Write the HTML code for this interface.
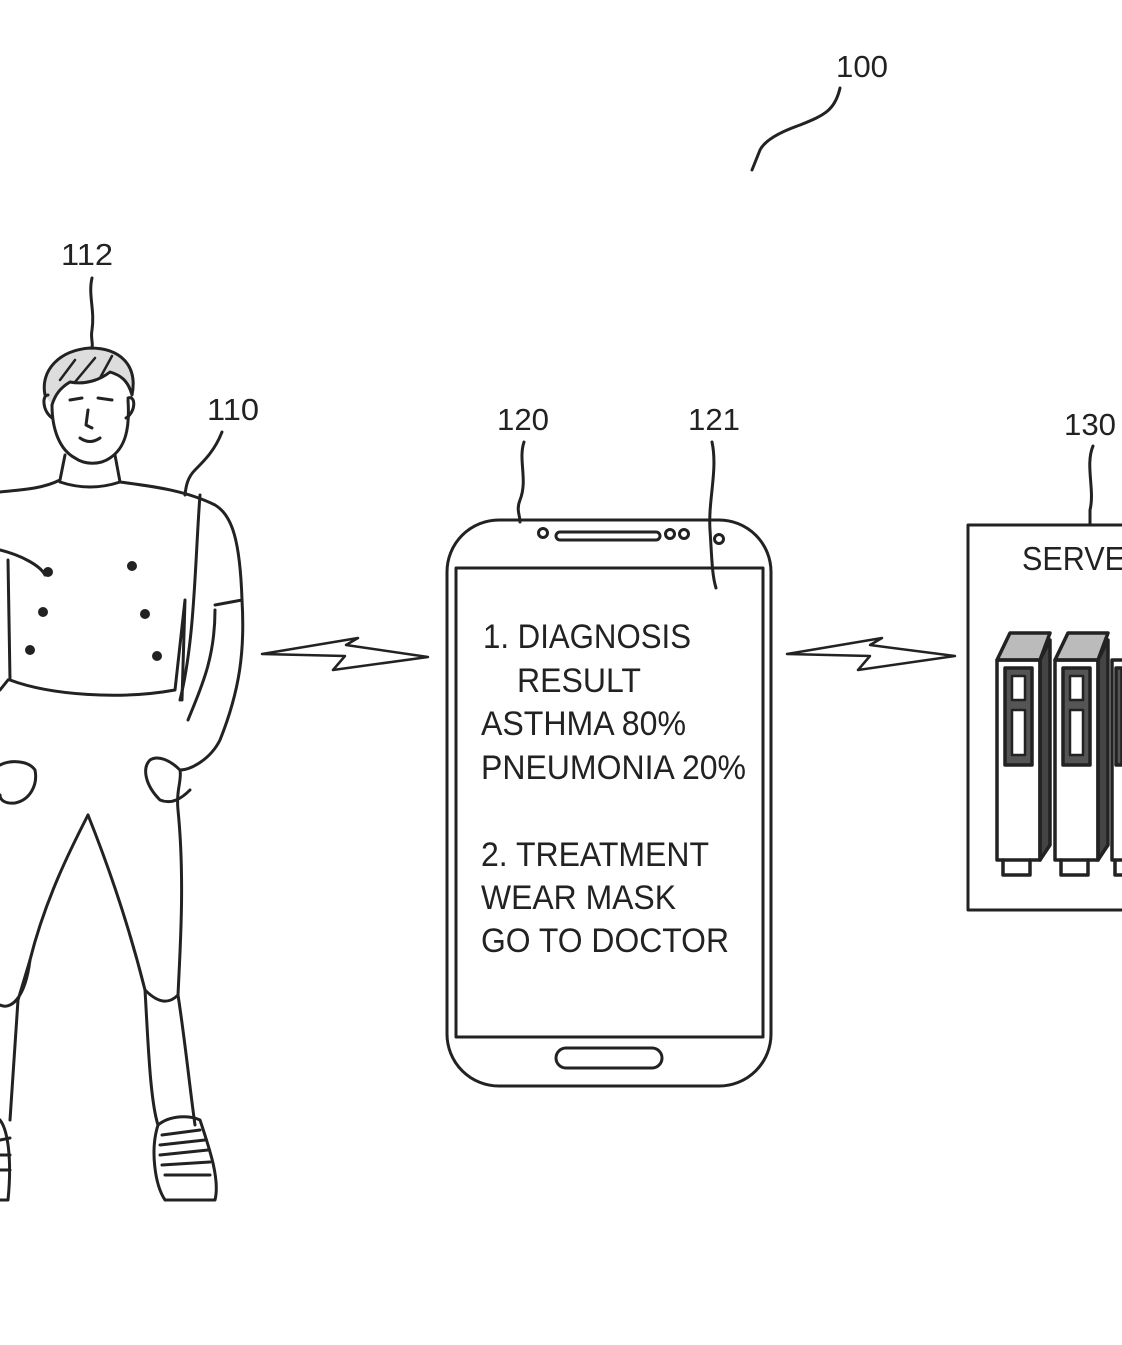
<!DOCTYPE html>
<html><head><meta charset="utf-8"><style>
html,body{margin:0;padding:0;background:#fff;}
svg{display:block;}
text{font-family:"Liberation Sans",sans-serif;fill:#222;}
</style></head><body>
<svg width="1122" height="1345" viewBox="0 0 1122 1345" xmlns="http://www.w3.org/2000/svg">
<g fill="none" stroke="#222" stroke-width="3" stroke-linecap="round" stroke-linejoin="round">
<path d="M840 88 C835 110 825 115 800 125 C780 132 765 140 760 150 L752 170"/>
<path d="M92 278 C88 295 95 310 92 330 C90 340 95 345 90 352"/>
<path d="M222 432 C215 450 205 460 195 470 C188 477 186 485 185 495"/>
<path d="M524 442 C518 460 528 480 520 500 C516 510 520 515 520 522"/>
<path d="M712 442 C718 470 708 500 710 530 C712 560 712 575 716 588"/>
<path d="M1093 446 C1085 465 1095 490 1090 510 L1090 525"/>

<!-- Person -->
<path d="M45 395 C40 370 60 350 90 348 C120 348 138 365 132 395 C128 380 120 375 110 372 C100 380 85 385 70 382 C60 388 55 395 52 405" fill="#ddd"/>
<path d="M60 380 L75 360 M75 382 L95 358 M100 378 L112 356" stroke-width="2.5"/>
<path d="M52 405 C52 430 60 450 75 458 C85 465 100 465 110 458 C125 448 130 430 128 400"/>
<path d="M48 395 C42 395 42 410 52 418"/><path d="M128 398 C136 395 136 412 126 418"/>
<path d="M70 400 L82 398 M98 398 L112 400 M88 410 L86 425 L92 428 M80 438 Q90 445 100 438"/>
<path d="M65 455 L60 480 C40 490 15 490 0 492 M115 455 L120 482 C150 486 185 490 215 505 C232 515 240 540 242 600 L215 605"/>
<path d="M60 482 Q90 492 120 482"/>
<path d="M0 550 C20 555 40 565 45 575"/>
<path d="M8 560 L10 680 C50 695 120 700 175 690 L185 600 M185 600 L182 700"/>
<path d="M8 680 L0 690"/>
<path d="M242 600 C245 650 240 690 220 740 C210 760 190 770 180 770 M215 610 C215 660 200 690 188 720 M200 495 C195 560 195 640 180 700"/>
<path d="M150 760 C142 768 145 785 160 800 C172 805 182 798 190 790 M180 770 C170 760 158 755 150 760"/>
<path d="M0 765 C10 760 28 760 35 770 C38 785 30 800 15 803 C5 804 0 800 0 795"/>
<path d="M88 815 C70 850 45 900 30 960 C25 1000 10 1010 0 1005"/>
<path d="M88 815 C110 870 130 930 145 990 C160 1005 170 1003 178 995 C180 950 185 880 178 810 C176 790 182 780 180 770"/>
<path d="M145 990 C148 1040 150 1100 158 1125 M178 995 C185 1040 190 1090 195 1125"/>
<path d="M30 960 L18 1000 L10 1120"/>
<path d="M158 1125 C150 1150 155 1185 165 1200 L215 1200 C220 1180 210 1150 200 1120 C190 1115 170 1115 158 1125"/>
<path d="M162 1135 L200 1130 M160 1145 L205 1140 M160 1155 L208 1150 M162 1165 L210 1162 M165 1175 L210 1175"/>
<path d="M0 1120 C8 1130 12 1160 8 1200 L0 1200 M0 1140 L10 1138 M0 1155 L10 1155 M0 1170 L10 1170"/>

<path d="M262 654 L345 656 L333 670 L428 657 L346 645 L358 638 Z" stroke-width="2.5"/>
<path d="M787 654 L870 656 L858 670 L955 656 L870 645 L882 638 Z" stroke-width="2.5"/>

<rect x="447" y="520" width="324" height="566" rx="52" ry="52"/>
<rect x="456" y="568" width="307" height="469"/>
<rect x="556" y="532" width="104" height="8" rx="4"/>
<circle cx="543" cy="533" r="4.5"/><circle cx="670" cy="534" r="4.5"/><circle cx="684" cy="534" r="4.5"/><circle cx="719" cy="539" r="4.5"/>
<rect x="556" y="1048" width="106" height="20" rx="10"/>

<path d="M1122 525 L968 525 L968 910 L1122 910"/>
<g stroke-width="3.5">
<path d="M1040 660 L1050 640 L1050 845 L1040 860 Z" fill="#444"/>
<path d="M997 660 L1010 633 L1050 633 L1040 660 Z" fill="#bbb"/>
<path d="M997 660 L1040 660 L1040 860 L997 860 Z"/>
<path d="M1005 668 L1032 668 L1032 765 L1005 765 Z" fill="#555"/>
<path d="M1012 676 L1025 676 L1025 700 L1012 700 Z M1012 710 L1025 710 L1025 755 L1012 755 Z" fill="#fff" stroke-width="2.5"/>
<path d="M1003 860 L1003 875 L1030 875 L1030 860"/>
<path d="M1098 660 L1108 640 L1108 845 L1098 860 Z" fill="#444"/>
<path d="M1055 660 L1068 633 L1108 633 L1098 660 Z" fill="#bbb"/>
<path d="M1055 660 L1098 660 L1098 860 L1055 860 Z"/>
<path d="M1063 668 L1090 668 L1090 765 L1063 765 Z" fill="#555"/>
<path d="M1070 676 L1083 676 L1083 700 L1070 700 Z M1070 710 L1083 710 L1083 755 L1070 755 Z" fill="#fff" stroke-width="2.5"/>
<path d="M1061 860 L1061 875 L1088 875 L1088 860"/>
<path d="M1112 660 L1122 660 M1112 660 L1112 860 L1122 860 M1115 860 L1115 875 L1122 875"/>
<path d="M1116 668 L1122 668 L1122 765 L1116 765 Z" fill="#555"/>
</g>
</g>
<g fill="#222">
<circle cx="48" cy="572" r="5"/><circle cx="132" cy="566" r="5"/>
<circle cx="43" cy="612" r="5"/><circle cx="145" cy="614" r="5"/>
<circle cx="30" cy="650" r="5"/><circle cx="157" cy="656" r="5"/>
</g>
<g font-size="31">
<text x="836" y="77" textLength="52" lengthAdjust="spacingAndGlyphs">100</text>
<text x="61" y="265" textLength="52" lengthAdjust="spacingAndGlyphs">112</text>
<text x="207" y="420" textLength="52" lengthAdjust="spacingAndGlyphs">110</text>
<text x="497" y="430" textLength="52" lengthAdjust="spacingAndGlyphs">120</text>
<text x="688" y="430" textLength="52" lengthAdjust="spacingAndGlyphs">121</text>
<text x="1064" y="435" textLength="52" lengthAdjust="spacingAndGlyphs">130</text>
<text x="1022" y="570" font-size="33" textLength="125" lengthAdjust="spacingAndGlyphs">SERVER</text>
</g>
<g font-size="34">
<text x="483" y="648" textLength="208" lengthAdjust="spacingAndGlyphs">1. DIAGNOSIS</text>
<text x="517" y="692" textLength="124" lengthAdjust="spacingAndGlyphs">RESULT</text>
<text x="481" y="735" textLength="205" lengthAdjust="spacingAndGlyphs">ASTHMA 80%</text>
<text x="481" y="779" textLength="265" lengthAdjust="spacingAndGlyphs">PNEUMONIA 20%</text>
<text x="481" y="866" textLength="228" lengthAdjust="spacingAndGlyphs">2. TREATMENT</text>
<text x="481" y="909" textLength="195" lengthAdjust="spacingAndGlyphs">WEAR MASK</text>
<text x="481" y="952" textLength="248" lengthAdjust="spacingAndGlyphs">GO TO DOCTOR</text>
</g>
</svg>
</body></html>
